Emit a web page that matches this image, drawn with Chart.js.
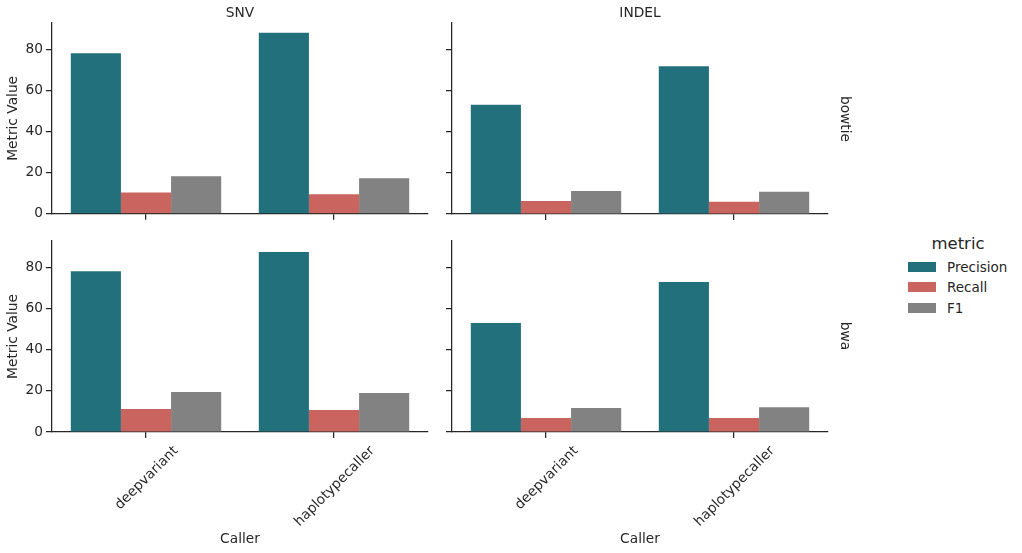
<!DOCTYPE html>
<html>
<head>
<meta charset="utf-8">
<script src="https://cdn.jsdelivr.net/npm/chart.js@4"></script>
<style>
  html, body { margin:0; padding:0; background:#fff; }
  body { width:1022px; height:553px; position:relative; overflow:hidden; font-family:"DejaVu Sans", sans-serif; color:#262626; }
  canvas { position:absolute; }
  .lbl { position:absolute; font-size:13.75px; line-height:13.75px; white-space:nowrap; transform:translate(-50%,-50%); }
  .rot { transform:translate(-50%,-50%) rotate(90deg); }
  #legend { position:absolute; left:0; top:0; }
  .sw { position:absolute; width:28px; height:10px; }
  .lt { position:absolute; font-size:13.5px; line-height:14px; white-space:nowrap; transform:translateY(-50%); }
</style>
</head>
<body>
<canvas id="c_bowtie_SNV"   style="left:0px;  top:0px;"   width="440" height="225"></canvas>
<canvas id="c_bowtie_INDEL" style="left:440px;top:0px;"   width="400" height="225"></canvas>
<canvas id="c_bwa_SNV"      style="left:0px;  top:225px;" width="440" height="328"></canvas>
<canvas id="c_bwa_INDEL"    style="left:440px;top:225px;" width="400" height="328"></canvas>
<div id="texts"></div>
<div id="legend"></div>
<script>
// ---- data ----
const CALLERS = ['deepvariant', 'haplotypecaller'];
const VARIANT_TYPES = ['SNV', 'INDEL'];
const ALIGNERS = ['bowtie', 'bwa'];
const METRICS = ['Precision', 'Recall', 'F1'];
const METRIC_COLORS = ['#22707b', '#c9645f', '#828282'];
const Y_TICKS = [0, 20, 40, 60, 80];
const Y_MAX = 92.9;

const bowtieSNV_Precision   = [78.2, 88.1];
const bowtieSNV_Recall      = [10.3, 9.5];
const bowtieSNV_F1          = [18.3, 17.3];
const bowtieINDEL_Precision = [53.1, 71.9];
const bowtieINDEL_Recall    = [6.3, 6.0];
const bowtieINDEL_F1        = [11.2, 10.8];
const bwaSNV_Precision      = [78.2, 87.5];
const bwaSNV_Recall         = [11.2, 10.7];
const bwaSNV_F1             = [19.4, 19.0];
const bwaINDEL_Precision    = [53.0, 73.0];
const bwaINDEL_Recall       = [6.8, 6.8];
const bwaINDEL_F1           = [11.7, 12.0];

const PANEL_DATA = {
  bowtie_SNV:   [bowtieSNV_Precision, bowtieSNV_Recall, bowtieSNV_F1],
  bowtie_INDEL: [bowtieINDEL_Precision, bowtieINDEL_Recall, bowtieINDEL_F1],
  bwa_SNV:      [bwaSNV_Precision, bwaSNV_Recall, bwaSNV_F1],
  bwa_INDEL:    [bwaINDEL_Precision, bwaINDEL_Recall, bwaINDEL_F1]
};

// ---- styling ----
const INK = '#262626';
const FONT = '"DejaVu Sans", sans-serif';

const rotatedXLabels = {
  id: 'rotatedXLabels',
  afterDraw(chart, args, opts) {
    if (!opts.show) return;
    const xs = chart.scales.x;
    const ctx = chart.ctx;
    const fs = 13.75;
    ctx.save();
    ctx.font = fs + 'px ' + FONT;
    ctx.fillStyle = INK;
    ctx.textAlign = 'center';
    ctx.textBaseline = 'middle';
    CALLERS.forEach((lab, i) => {
      const x = xs.getPixelForTick(i);
      const L = ctx.measureText(lab).width;
      const h = fs * 1.164;
      const half = (L + h) / (2 * Math.SQRT2);
      const top = xs.top + 6 + 4.4;
      ctx.save();
      ctx.translate(x, top + half);
      ctx.rotate(-Math.PI / 4);
      ctx.fillText(lab, 0, 1);
      ctx.restore();
    });
    ctx.restore();
  }
};

function makeChart(aligner, vtype, rowIdx, colIdx) {
  const key = aligner + '_' + vtype;
  const values = PANEL_DATA[key];
  const isLeft = colIdx === 0;
  const isBottom = rowIdx === 1;
  const ctx = document.getElementById('c_' + key);
  return new Chart(ctx, {
    type: 'bar',
    data: {
      labels: CALLERS,
      datasets: METRICS.map((m, k) => ({
        label: m,
        data: values[k],
        backgroundColor: METRIC_COLORS[k],
        borderWidth: 0,
        categoryPercentage: 0.8,
        barPercentage: 1.0
      }))
    },
    options: {
      responsive: false,
      animation: false,
      devicePixelRatio: 1,
      layout: { autoPadding: false, padding: { left: 0, right: 12, top: isBottom ? 16 : 23, bottom: 0 } },
      plugins: {
        legend: { display: false },
        tooltip: { enabled: false },
        title: { display: false },
        rotatedXLabels: { show: isBottom }
      },
      scales: {
        x: {
          type: 'category',
          offset: true,
          grid: { offset: false, drawOnChartArea: false, drawTicks: true, tickLength: 6, color: INK, lineWidth: 1.25 },
          border: { display: true, color: INK, width: 1.25 },
          ticks: { display: false },
          title: {
            display: isBottom, text: 'Caller', color: INK,
            font: { family: FONT, size: 13.75 }, padding: { top: 4, bottom: 5 }
          },
          afterFit(scale) { scale.height = isBottom ? 121 : 11; }
        },
        y: {
          type: 'linear',
          min: 0,
          max: Y_MAX,
          afterBuildTicks(scale) { scale.ticks = Y_TICKS.map(v => ({ value: v })); },
          grid: { drawOnChartArea: false, drawTicks: true, tickLength: 6, color: INK, lineWidth: 1.25 },
          border: { display: true, color: INK, width: 1.25 },
          ticks: {
            display: isLeft, color: INK, padding: 3,
            font: { family: FONT, size: 13.75 },
            callback: v => String(v)
          },
          title: {
            display: isLeft, text: 'Metric Value', color: INK,
            font: { family: FONT, size: 13.75 }, padding: { top: 5, bottom: 4 }
          },
          afterFit(scale) { scale.width = isLeft ? 52 : 12; }
        }
      }
    },
    plugins: [rotatedXLabels]
  });
}

ALIGNERS.forEach((a, r) => VARIANT_TYPES.forEach((v, c) => makeChart(a, v, r, c)));

// ---- facet & row labels ----
const texts = document.getElementById('texts');
const COL_TITLE_X = [240, 640];
VARIANT_TYPES.forEach((v, c) => {
  const d = document.createElement('div');
  d.className = 'lbl';
  d.textContent = v;
  d.style.left = COL_TITLE_X[c] + 'px';
  d.style.top = '13px';
  texts.appendChild(d);
});
const ROW_LABEL_Y = [118.5, 336];
ALIGNERS.forEach((a, r) => {
  const d = document.createElement('div');
  d.className = 'lbl rot';
  d.textContent = a;
  d.style.left = '845px';
  d.style.top = ROW_LABEL_Y[r] + 'px';
  texts.appendChild(d);
});

// ---- legend ----
const lg = document.getElementById('legend');
const t = document.createElement('div');
t.className = 'lbl';
t.style.fontSize = '16.5px';
t.style.lineHeight = '16.5px';
t.style.left = '958px';
t.style.top = '244px';
t.textContent = 'metric';
lg.appendChild(t);
METRICS.forEach((m, k) => {
  const cy = 266.5 + k * 20.6;
  const sw = document.createElement('div');
  sw.className = 'sw';
  sw.style.left = '908px';
  sw.style.top = (cy - 5) + 'px';
  sw.style.background = METRIC_COLORS[k];
  lg.appendChild(sw);
  const lt = document.createElement('div');
  lt.className = 'lt';
  lt.style.left = '947px';
  lt.style.top = cy + 'px';
  lt.textContent = m;
  lg.appendChild(lt);
});
</script>
</body>
</html>
